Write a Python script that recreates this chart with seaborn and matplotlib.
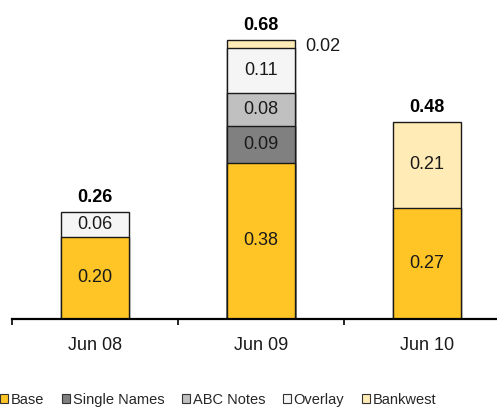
import numpy as np
import pandas as pd
import matplotlib
matplotlib.use("Agg")
import matplotlib.pyplot as plt
from matplotlib.patches import Patch
import seaborn as sns

categories = ["Jun 08", "Jun 09", "Jun 10"]
components = ["Base", "Single Names", "ABC Notes", "Overlay", "Bankwest"]
base = [0.20, 0.38, 0.27]
single_names = [0.00, 0.09, 0.00]
abc_notes = [0.00, 0.08, 0.00]
overlay = [0.06, 0.11, 0.00]
bankwest = [0.00, 0.02, 0.21]
totals = [0.26, 0.68, 0.48]
colors = ["#FFC425", "#808080", "#C0C0C0", "#F5F5F5", "#FFEBB5"]

sns.set_theme(style="white")
plt.rcParams["font.family"] = ["Liberation Sans", "DejaVu Sans"]

series = [base, single_names, abc_notes, overlay, bankwest]
vals = np.array(series)
cum = np.cumsum(vals, axis=0)

fig = plt.figure(figsize=(4.97, 4.09), dpi=100)
YMAX = 0.76
ax = fig.add_axes([12 / 497, 90.3 / 409, 1 - 12 / 497, YMAX * 410 / 409])

BW = 0.41
# draw cumulative levels from top to bottom so each segment overlays
for i in range(len(components) - 1, -1, -1):
    h = np.where(vals[i] > 0, cum[i], np.nan)
    df = pd.DataFrame({"period": categories, "value": h})
    sns.barplot(data=df, x="period", y="value", color=colors[i], saturation=1,
                width=BW, edgecolor="#1a1a1a", linewidth=1.0, errorbar=None, ax=ax)

# segment labels
for j in range(len(categories)):
    for i in range(len(components)):
        v = vals[i, j]
        if v <= 0:
            continue
        mid = cum[i, j] - v / 2
        if v < 0.04:
            ax.text(j + BW / 2 + 0.063, cum[i, j] - 0.015, f"{v:.2f}", ha="left", va="center",
                    fontsize=13, color="#1a1a1a")
        else:
            ax.text(j, mid, f"{v:.2f}", ha="center", va="center", fontsize=13, color="#1a1a1a")
    ax.text(j, totals[j] + 0.024, f"{totals[j]:.2f}", ha="center", va="baseline",
            fontsize=13, fontweight="bold", color="black")

ax.set_xlim(-0.5, -0.5 + 485 / 166)
ax.set_ylim(0, YMAX)
ax.set_xlabel("")
ax.set_ylabel("")
ax.set_yticks([])
for s in ["left", "right", "top"]:
    ax.spines[s].set_visible(False)
ax.spines["bottom"].set_linewidth(1.6)
ax.spines["bottom"].set_color("black")
ax.set_xticks([0, 1, 2])
ax.set_xticklabels(categories, fontsize=13, color="#1a1a1a")
ax.set_xticks([-0.5, 0.5, 1.5], minor=True)
ax.tick_params(axis="x", which="major", length=0, pad=13.5)
ax.tick_params(axis="x", which="minor", length=4, width=1.2, color="black", direction="out", bottom=True)

handles = [Patch(facecolor=c, edgecolor="#333333", linewidth=0.8) for c in colors]
fig.legend(handles, components, loc="center left", bbox_to_anchor=(0.0, 0.022),
           ncol=5, frameon=False, fontsize=10.5, handlelength=0.55, handleheight=0.55,
           handletextpad=0.2, columnspacing=1.2, borderaxespad=0, borderpad=0)

fig.savefig("out.png", dpi=100)
